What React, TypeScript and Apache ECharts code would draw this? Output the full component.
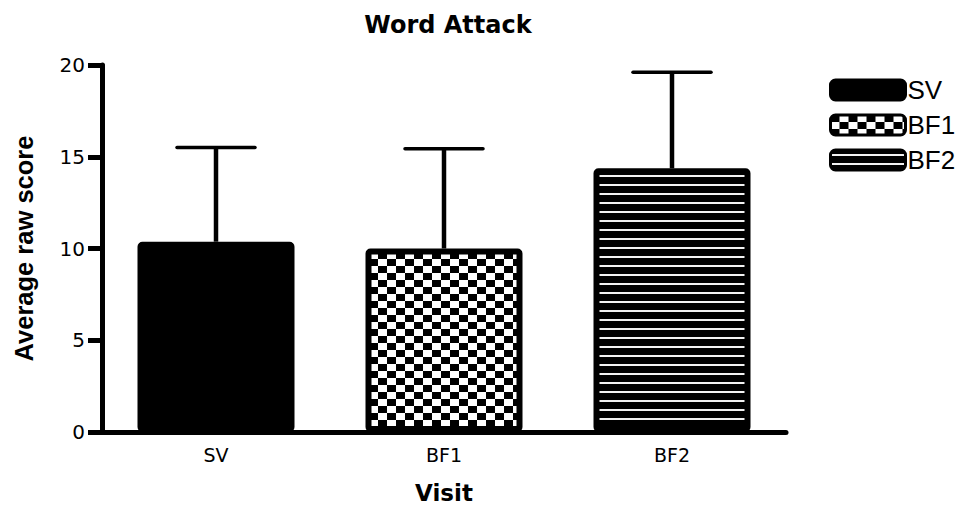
import React, { useEffect, useRef } from 'react';
import * as echarts from 'echarts';

const categories = ['SV', 'BF1', 'BF2'];
const means = [10.37, 10.0, 14.37];
const sds = [5.13, 5.43, 5.23];
const yMin = 0;
const yMax = 20;
const yInterval = 5;

function checkerURL(): string {
  const c = document.createElement('canvas');
  c.width = 18;
  c.height = 14;
  const ctx = c.getContext('2d')!;
  ctx.fillStyle = '#fff';
  ctx.fillRect(0, 0, 18, 14);
  ctx.fillStyle = '#000';
  ctx.fillRect(0, 0, 9, 7);
  ctx.fillRect(9, 7, 9, 7);
  return c.toDataURL();
}

function stripesURL(): string {
  const c = document.createElement('canvas');
  c.width = 10;
  c.height = 9;
  const ctx = c.getContext('2d')!;
  ctx.fillStyle = '#000';
  ctx.fillRect(0, 0, 10, 9);
  ctx.fillStyle = '#f2f2f2';
  ctx.fillRect(0, 4, 10, 2);
  return c.toDataURL();
}

export default function App() {
  const ref = useRef<HTMLDivElement>(null);
  useEffect(() => {
    document.body.style.margin = '0';
    const chart = echarts.init(ref.current!, null, { renderer: 'svg' });
    const fills: any[] = [
      '#000',
      { image: checkerURL(), repeat: 'repeat', imageWidth: 18, imageHeight: 14 },
      { image: stripesURL(), repeat: 'repeat', imageWidth: 10, imageHeight: 9 },
    ];
    const barSeries = categories.map((name, i) => ({
      name,
      type: 'bar',
      data: means.map((v, j) => (j === i ? v : null)),
      barWidth: 157,
      barGap: '-100%',
      itemStyle: { color: fills[i], borderColor: '#000', borderWidth: 6, borderRadius: 2 },
      z: 2,
    }));
    chart.setOption({
      animation: false,
      backgroundColor: '#fff',
      title: {
        text: 'Word Attack',
        left: 443,
        top: 8,
        textAlign: 'center',
        textStyle: { fontFamily: 'DejaVu Sans', fontWeight: 'bold', fontSize: 24, color: '#000' },
      },
      legend: {
        data: categories,
        orient: 'vertical',
        left: 829,
        top: 77,
        padding: 0,
        itemWidth: 75,
        itemHeight: 20,
        itemGap: 9,
        icon: 'roundRect',
        itemStyle: { borderWidth: 3, borderColor: '#000' },
        textStyle: { fontFamily: 'Liberation Sans', fontSize: 26, lineHeight: 20, color: '#000', padding: [0, 0, 0, -3] },
      },
      grid: { left: 102, right: 183, top: 65, bottom: 74, outerBoundsMode: 'none' },
      xAxis: {
        type: 'category',
        data: categories,
        name: 'Visit',
        nameLocation: 'middle',
        nameGap: 50,
        nameTextStyle: { fontFamily: 'DejaVu Sans', fontWeight: 'bold', fontSize: 23, lineHeight: 22, color: '#000' },
        axisLine: { lineStyle: { color: '#000', width: 5 } },
        axisTick: { alignWithLabel: true, length: 10, lineStyle: { color: '#000', width: 5 } },
        axisLabel: { fontFamily: 'DejaVu Sans', fontSize: 19, color: '#000', margin: 13 },
      },
      yAxis: {
        type: 'value',
        min: yMin,
        max: yMax,
        interval: yInterval,
        name: 'Average raw score',
        nameLocation: 'middle',
        nameGap: 65,
        nameTextStyle: { fontFamily: 'Liberation Sans', fontWeight: 'bold', fontSize: 25.5, color: '#000' },
        axisLine: { show: true, lineStyle: { color: '#000', width: 5 } },
        axisTick: { show: true, length: 14, lineStyle: { color: '#000', width: 5 } },
        axisLabel: { fontFamily: 'DejaVu Sans', fontSize: 20, color: '#000', margin: 17 },
        splitLine: { show: false },
      },
      series: [
        ...barSeries,
        {
          type: 'custom',
          name: 'error',
          silent: true,
          z: 3,
          data: means.map((m, i) => [i, m, m + sds[i]]),
          encode: { x: 0, y: [1, 2] },
          renderItem: (params: any, api: any) => {
            const p0 = api.coord([api.value(0), api.value(1)]);
            const p1 = api.coord([api.value(0), api.value(2)]);
            return {
              type: 'group',
              children: [
                {
                  type: 'line',
                  shape: { x1: p0[0], y1: p0[1], x2: p1[0], y2: p1[1] },
                  style: { stroke: '#000', lineWidth: 4.5 },
                },
                {
                  type: 'line',
                  shape: { x1: p1[0] - 39, y1: p1[1], x2: p1[0] + 39, y2: p1[1] },
                  style: { stroke: '#000', lineWidth: 3.5, lineCap: 'round' },
                },
              ],
            };
          },
        },
      ],
    });
    return () => chart.dispose();
  }, []);
  return <div ref={ref} style={{ width: 969, height: 506 }} />;
}
